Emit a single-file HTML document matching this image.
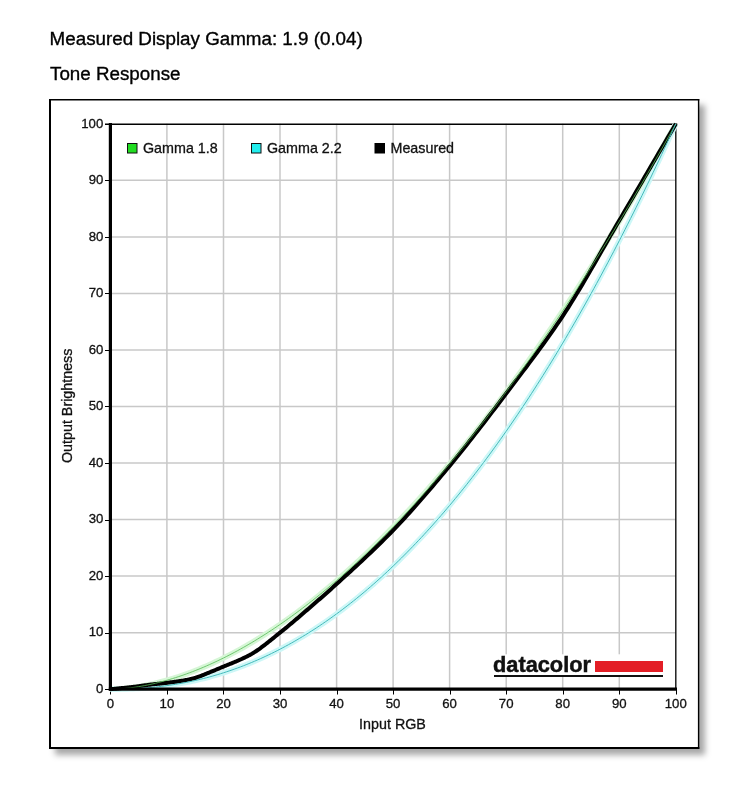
<!DOCTYPE html>
<html><head><meta charset="utf-8"><style>
html,body{margin:0;padding:0;background:#fff;width:746px;height:800px;overflow:hidden}
body{position:relative;font-family:"Liberation Sans",Arial,sans-serif;color:#000}
.t{position:absolute;left:50px;font-size:18.6px;white-space:nowrap;line-height:1}
#box{position:absolute;left:49px;top:99px;width:650px;height:650px;background:#fff;box-shadow:6px 6px 6px rgba(0,0,0,.34)}
svg{position:absolute;left:0;top:0;will-change:transform}
</style></head><body>
<div id="box"></div>
<svg width="746" height="800" viewBox="0 0 746 800">
<text x="49.6" y="44.6" font-family="Liberation Sans, Arial, sans-serif" font-size="18.8" fill="#000" stroke="#000" stroke-width="0.35">Measured Display Gamma: 1.9 (0.04)</text>
<text x="50" y="80.3" font-family="Liberation Sans, Arial, sans-serif" font-size="18.8" fill="#000" stroke="#000" stroke-width="0.35">Tone Response</text>
<g stroke="#c8c8c8" stroke-width="1.5" fill="none">
<line x1="166.9" y1="123.8" x2="166.9" y2="689.2"/>
<line x1="110.4" y1="632.7" x2="675.8" y2="632.7"/>
<line x1="223.5" y1="123.8" x2="223.5" y2="689.2"/>
<line x1="110.4" y1="576.1" x2="675.8" y2="576.1"/>
<line x1="280.0" y1="123.8" x2="280.0" y2="689.2"/>
<line x1="110.4" y1="519.6" x2="675.8" y2="519.6"/>
<line x1="336.6" y1="123.8" x2="336.6" y2="689.2"/>
<line x1="110.4" y1="463.0" x2="675.8" y2="463.0"/>
<line x1="393.1" y1="123.8" x2="393.1" y2="689.2"/>
<line x1="110.4" y1="406.5" x2="675.8" y2="406.5"/>
<line x1="449.6" y1="123.8" x2="449.6" y2="689.2"/>
<line x1="110.4" y1="350.0" x2="675.8" y2="350.0"/>
<line x1="506.2" y1="123.8" x2="506.2" y2="689.2"/>
<line x1="110.4" y1="293.4" x2="675.8" y2="293.4"/>
<line x1="562.7" y1="123.8" x2="562.7" y2="689.2"/>
<line x1="110.4" y1="236.9" x2="675.8" y2="236.9"/>
<line x1="619.3" y1="123.8" x2="619.3" y2="689.2"/>
<line x1="110.4" y1="180.3" x2="675.8" y2="180.3"/>
</g>
<g font-family="Liberation Sans, Arial, sans-serif" font-size="13.2" fill="#111" stroke="#111" stroke-width="0.3">
<text x="103.3" y="692.9" text-anchor="end">0</text>
<text x="110.4" y="707.6" text-anchor="middle">0</text>
<text x="103.3" y="636.4" text-anchor="end">10</text>
<text x="166.9" y="707.6" text-anchor="middle">10</text>
<text x="103.3" y="579.8" text-anchor="end">20</text>
<text x="223.5" y="707.6" text-anchor="middle">20</text>
<text x="103.3" y="523.3" text-anchor="end">30</text>
<text x="280.0" y="707.6" text-anchor="middle">30</text>
<text x="103.3" y="466.7" text-anchor="end">40</text>
<text x="336.6" y="707.6" text-anchor="middle">40</text>
<text x="103.3" y="410.2" text-anchor="end">50</text>
<text x="393.1" y="707.6" text-anchor="middle">50</text>
<text x="103.3" y="353.7" text-anchor="end">60</text>
<text x="449.6" y="707.6" text-anchor="middle">60</text>
<text x="103.3" y="297.1" text-anchor="end">70</text>
<text x="506.2" y="707.6" text-anchor="middle">70</text>
<text x="103.3" y="240.6" text-anchor="end">80</text>
<text x="562.7" y="707.6" text-anchor="middle">80</text>
<text x="103.3" y="184.0" text-anchor="end">90</text>
<text x="619.3" y="707.6" text-anchor="middle">90</text>
<text x="103.3" y="127.5" text-anchor="end">100</text>
<text x="675.8" y="707.6" text-anchor="middle">100</text>
</g>
<g stroke="#000" stroke-width="1"><line x1="105" y1="689.5" x2="110.4" y2="689.5"/>
<line x1="110.5" y1="689.2" x2="110.5" y2="694.5"/>
<line x1="105" y1="633.5" x2="110.4" y2="633.5"/>
<line x1="167.5" y1="689.2" x2="167.5" y2="694.5"/>
<line x1="105" y1="576.5" x2="110.4" y2="576.5"/>
<line x1="223.5" y1="689.2" x2="223.5" y2="694.5"/>
<line x1="105" y1="520.5" x2="110.4" y2="520.5"/>
<line x1="280.5" y1="689.2" x2="280.5" y2="694.5"/>
<line x1="105" y1="463.5" x2="110.4" y2="463.5"/>
<line x1="337.5" y1="689.2" x2="337.5" y2="694.5"/>
<line x1="105" y1="406.5" x2="110.4" y2="406.5"/>
<line x1="393.5" y1="689.2" x2="393.5" y2="694.5"/>
<line x1="105" y1="350.5" x2="110.4" y2="350.5"/>
<line x1="450.5" y1="689.2" x2="450.5" y2="694.5"/>
<line x1="105" y1="293.5" x2="110.4" y2="293.5"/>
<line x1="506.5" y1="689.2" x2="506.5" y2="694.5"/>
<line x1="105" y1="237.5" x2="110.4" y2="237.5"/>
<line x1="563.5" y1="689.2" x2="563.5" y2="694.5"/>
<line x1="105" y1="180.5" x2="110.4" y2="180.5"/>
<line x1="619.5" y1="689.2" x2="619.5" y2="694.5"/>
<line x1="105" y1="124.5" x2="110.4" y2="124.5"/>
<line x1="676.5" y1="689.2" x2="676.5" y2="694.5"/></g>
<!-- outer box border -->
<g fill="#000">
<rect x="49" y="99" width="2" height="650"/>
<rect x="49" y="99" width="650.3" height="1.5"/>
<rect x="697.9" y="99" width="1.4" height="650"/>
<rect x="49" y="747" width="650.3" height="2"/>
</g>
<!-- frame -->
<line x1="105" y1="124.3" x2="677.3" y2="124.3" stroke="#000" stroke-width="1.6"/>
<line x1="675.8" y1="123.5" x2="675.8" y2="689" stroke="#111" stroke-width="1.4"/>
<!-- datacolor logo -->
<g>
<rect x="492" y="654.3" width="172" height="21" fill="#fff"/>
<text x="493" y="671.5" font-family="Liberation Sans, Arial, sans-serif" font-weight="bold" font-size="22.6" fill="#111" stroke="#111" stroke-width="0.5" textLength="98" lengthAdjust="spacingAndGlyphs">datacolor</text>
<rect x="595" y="661" width="68" height="11" fill="#e31e26"/>
<rect x="494" y="675" width="169" height="2" fill="#111"/>
</g>
<!-- curves -->
<path d="M110.40,689.20 L113.23,689.16 L116.05,689.06 L118.88,688.91 L121.71,688.71 L124.54,688.46 L127.36,688.17 L130.19,687.85 L133.02,687.48 L135.84,687.07 L138.67,686.63 L141.50,686.15 L144.32,685.63 L147.15,685.07 L149.98,684.48 L152.81,683.86 L155.63,683.20 L158.46,682.51 L161.29,681.79 L164.11,681.03 L166.94,680.24 L169.77,679.42 L172.59,678.56 L175.42,677.68 L178.25,676.76 L181.07,675.81 L183.90,674.83 L186.73,673.82 L189.56,672.78 L192.38,671.71 L195.21,670.61 L198.04,669.48 L200.86,668.32 L203.69,667.13 L206.52,665.91 L209.34,664.66 L212.17,663.39 L215.00,662.08 L217.83,660.75 L220.65,659.39 L223.48,658.00 L226.31,656.58 L229.13,655.13 L231.96,653.66 L234.79,652.16 L237.62,650.63 L240.44,649.07 L243.27,647.49 L246.10,645.88 L248.92,644.24 L251.75,642.57 L254.58,640.88 L257.40,639.16 L260.23,637.42 L263.06,635.64 L265.88,633.85 L268.71,632.02 L271.54,630.17 L274.37,628.29 L277.19,626.39 L280.02,624.46 L282.85,622.50 L285.67,620.52 L288.50,618.52 L291.33,616.48 L294.15,614.43 L296.98,612.34 L299.81,610.23 L302.64,608.10 L305.46,605.94 L308.29,603.76 L311.12,601.55 L313.94,599.31 L316.77,597.05 L319.60,594.77 L322.43,592.46 L325.25,590.12 L328.08,587.77 L330.91,585.38 L333.73,582.97 L336.56,580.54 L339.39,578.08 L342.21,575.60 L345.04,573.10 L347.87,570.57 L350.69,568.01 L353.52,565.43 L356.35,562.83 L359.18,560.21 L362.00,557.56 L364.83,554.88 L367.66,552.18 L370.48,549.46 L373.31,546.71 L376.14,543.94 L378.97,541.15 L381.79,538.33 L384.62,535.49 L387.45,532.63 L390.27,529.74 L393.10,526.83 L395.93,523.90 L398.75,520.94 L401.58,517.96 L404.41,514.95 L407.24,511.93 L410.06,508.88 L412.89,505.80 L415.72,502.71 L418.54,499.59 L421.37,496.44 L424.20,493.28 L427.02,490.09 L429.85,486.88 L432.68,483.64 L435.50,480.39 L438.33,477.11 L441.16,473.80 L443.99,470.48 L446.81,467.13 L449.64,463.76 L452.47,460.37 L455.29,456.95 L458.12,453.52 L460.95,450.06 L463.77,446.57 L466.60,443.07 L469.43,439.54 L472.26,435.99 L475.08,432.42 L477.91,428.82 L480.74,425.21 L483.56,421.57 L486.39,417.91 L489.22,414.23 L492.04,410.52 L494.87,406.80 L497.70,403.05 L500.53,399.28 L503.35,395.48 L506.18,391.67 L509.01,387.83 L511.83,383.97 L514.66,380.09 L517.49,376.19 L520.32,372.27 L523.14,368.32 L525.97,364.36 L528.80,360.37 L531.62,356.36 L534.45,352.33 L537.28,348.27 L540.10,344.20 L542.93,340.10 L545.76,335.99 L548.59,331.85 L551.41,327.69 L554.24,323.50 L557.07,319.30 L559.89,315.08 L562.72,310.83 L565.55,306.56 L568.37,302.27 L571.20,297.96 L574.03,293.63 L576.86,289.28 L579.68,284.91 L582.51,280.51 L585.34,276.10 L588.16,271.66 L590.99,267.20 L593.82,262.72 L596.64,258.22 L599.47,253.70 L602.30,249.16 L605.12,244.60 L607.95,240.02 L610.78,235.41 L613.61,230.79 L616.43,226.14 L619.26,221.47 L622.09,216.79 L624.91,212.08 L627.74,207.35 L630.57,202.60 L633.39,197.83 L636.22,193.04 L639.05,188.22 L641.88,183.39 L644.70,178.54 L647.53,173.66 L650.36,168.77 L653.18,163.86 L656.01,158.92 L658.84,153.96 L661.66,148.99 L664.49,143.99 L667.32,138.97 L670.15,133.94 L672.97,128.88 L675.80,123.80" stroke="#d6f6d6" stroke-width="5.5" fill="none"/>
<path d="M110.40,689.20 L113.23,689.20 L116.05,689.18 L118.88,689.15 L121.71,689.10 L124.54,689.03 L127.36,688.95 L130.19,688.85 L133.02,688.72 L135.84,688.58 L138.67,688.42 L141.50,688.24 L144.32,688.04 L147.15,687.82 L149.98,687.57 L152.81,687.31 L155.63,687.02 L158.46,686.70 L161.29,686.37 L164.11,686.01 L166.94,685.63 L169.77,685.23 L172.59,684.80 L175.42,684.35 L178.25,683.87 L181.07,683.37 L183.90,682.85 L186.73,682.30 L189.56,681.72 L192.38,681.12 L195.21,680.50 L198.04,679.84 L200.86,679.17 L203.69,678.46 L206.52,677.74 L209.34,676.98 L212.17,676.20 L215.00,675.39 L217.83,674.56 L220.65,673.70 L223.48,672.81 L226.31,671.89 L229.13,670.95 L231.96,669.98 L234.79,668.98 L237.62,667.96 L240.44,666.91 L243.27,665.83 L246.10,664.72 L248.92,663.58 L251.75,662.42 L254.58,661.23 L257.40,660.01 L260.23,658.76 L263.06,657.48 L265.88,656.17 L268.71,654.84 L271.54,653.47 L274.37,652.08 L277.19,650.66 L280.02,649.20 L282.85,647.72 L285.67,646.21 L288.50,644.67 L291.33,643.10 L294.15,641.50 L296.98,639.87 L299.81,638.21 L302.64,636.52 L305.46,634.81 L308.29,633.06 L311.12,631.28 L313.94,629.47 L316.77,627.63 L319.60,625.75 L322.43,623.85 L325.25,621.92 L328.08,619.96 L330.91,617.96 L333.73,615.94 L336.56,613.88 L339.39,611.80 L342.21,609.68 L345.04,607.53 L347.87,605.35 L350.69,603.14 L353.52,600.89 L356.35,598.62 L359.18,596.31 L362.00,593.98 L364.83,591.61 L367.66,589.20 L370.48,586.77 L373.31,584.31 L376.14,581.81 L378.97,579.28 L381.79,576.72 L384.62,574.12 L387.45,571.50 L390.27,568.84 L393.10,566.15 L395.93,563.42 L398.75,560.67 L401.58,557.88 L404.41,555.06 L407.24,552.20 L410.06,549.32 L412.89,546.40 L415.72,543.45 L418.54,540.46 L421.37,537.44 L424.20,534.39 L427.02,531.30 L429.85,528.19 L432.68,525.04 L435.50,521.85 L438.33,518.63 L441.16,515.38 L443.99,512.10 L446.81,508.78 L449.64,505.42 L452.47,502.04 L455.29,498.62 L458.12,495.16 L460.95,491.68 L463.77,488.16 L466.60,484.60 L469.43,481.01 L472.26,477.39 L475.08,473.73 L477.91,470.04 L480.74,466.31 L483.56,462.55 L486.39,458.76 L489.22,454.93 L492.04,451.06 L494.87,447.17 L497.70,443.23 L500.53,439.27 L503.35,435.27 L506.18,431.23 L509.01,427.16 L511.83,423.05 L514.66,418.91 L517.49,414.73 L520.32,410.52 L523.14,406.28 L525.97,402.00 L528.80,397.68 L531.62,393.33 L534.45,388.94 L537.28,384.52 L540.10,380.07 L542.93,375.57 L545.76,371.05 L548.59,366.48 L551.41,361.89 L554.24,357.25 L557.07,352.58 L559.89,347.88 L562.72,343.14 L565.55,338.36 L568.37,333.55 L571.20,328.70 L574.03,323.82 L576.86,318.90 L579.68,313.94 L582.51,308.95 L585.34,303.93 L588.16,298.86 L590.99,293.76 L593.82,288.63 L596.64,283.46 L599.47,278.25 L602.30,273.00 L605.12,267.72 L607.95,262.41 L610.78,257.05 L613.61,251.66 L616.43,246.24 L619.26,240.78 L622.09,235.28 L624.91,229.74 L627.74,224.17 L630.57,218.56 L633.39,212.91 L636.22,207.23 L639.05,201.51 L641.88,195.76 L644.70,189.96 L647.53,184.13 L650.36,178.27 L653.18,172.36 L656.01,166.42 L658.84,160.45 L661.66,154.43 L664.49,148.38 L667.32,142.29 L670.15,136.16 L672.97,130.00 L675.80,123.80" stroke="#cdf7f7" stroke-width="5.5" fill="none"/>
<path d="M110.40,689.20 L111.53,689.09 L112.66,688.98 L113.79,688.87 L114.92,688.76 L116.05,688.65 L117.18,688.54 L118.32,688.44 L119.45,688.33 L120.58,688.22 L121.71,688.11 L122.84,688.00 L123.97,687.89 L125.10,687.78 L126.23,687.67 L127.36,687.55 L128.49,687.43 L129.62,687.31 L130.75,687.19 L131.89,687.07 L133.02,686.94 L133.86,686.84 L134.71,686.74 L135.56,686.63 L136.41,686.52 L137.26,686.41 L138.10,686.29 L138.95,686.18 L139.80,686.06 L140.65,685.94 L141.50,685.82 L142.35,685.70 L143.19,685.58 L144.04,685.46 L144.89,685.34 L145.74,685.23 L146.59,685.11 L147.43,685.00 L148.28,684.89 L149.13,684.78 L149.98,684.68 L150.83,684.58 L151.67,684.48 L152.52,684.38 L153.37,684.29 L154.22,684.19 L155.07,684.10 L155.91,684.01 L156.76,683.92 L157.61,683.84 L158.46,683.75 L159.31,683.66 L160.16,683.57 L161.00,683.48 L161.85,683.39 L162.70,683.30 L163.55,683.21 L164.40,683.11 L165.24,683.01 L166.09,682.91 L166.94,682.81 L167.70,682.72 L168.47,682.62 L169.23,682.53 L169.99,682.44 L170.76,682.34 L171.52,682.25 L172.28,682.15 L173.05,682.05 L173.81,681.95 L174.57,681.85 L175.34,681.75 L176.10,681.65 L176.86,681.54 L177.63,681.43 L178.39,681.32 L179.15,681.21 L179.92,681.09 L180.68,680.97 L181.44,680.85 L182.21,680.72 L182.80,680.62 L183.39,680.51 L183.99,680.41 L184.58,680.30 L185.17,680.19 L185.77,680.08 L186.36,679.96 L186.96,679.84 L187.55,679.72 L188.14,679.60 L188.74,679.47 L189.33,679.34 L189.92,679.20 L190.52,679.07 L191.11,678.93 L191.70,678.78 L192.30,678.64 L192.89,678.49 L193.49,678.33 L194.08,678.17 L194.87,677.95 L195.66,677.72 L196.45,677.47 L197.25,677.21 L198.04,676.94 L198.83,676.66 L199.62,676.37 L200.41,676.07 L201.20,675.77 L201.99,675.46 L202.79,675.14 L203.58,674.82 L204.37,674.50 L205.16,674.17 L205.95,673.85 L206.74,673.52 L207.54,673.20 L208.33,672.87 L209.12,672.55 L209.91,672.24 L210.59,671.97 L211.27,671.70 L211.95,671.42 L212.62,671.14 L213.30,670.86 L213.98,670.58 L214.66,670.30 L215.34,670.02 L216.02,669.73 L216.70,669.44 L217.37,669.16 L218.05,668.87 L218.73,668.58 L219.41,668.30 L220.09,668.01 L220.77,667.72 L221.44,667.44 L222.12,667.15 L222.80,666.87 L223.48,666.58 L224.30,666.25 L225.12,665.91 L225.94,665.58 L226.76,665.25 L227.58,664.92 L228.40,664.59 L229.22,664.26 L230.04,663.93 L230.86,663.60 L231.68,663.27 L232.50,662.94 L233.32,662.61 L234.14,662.27 L234.96,661.93 L235.78,661.59 L236.60,661.24 L237.42,660.89 L238.24,660.53 L239.06,660.17 L239.88,659.80 L240.47,659.53 L241.06,659.26 L241.66,658.99 L242.25,658.71 L242.84,658.44 L243.44,658.16 L244.03,657.88 L244.63,657.60 L245.22,657.31 L245.81,657.02 L246.41,656.73 L247.00,656.43 L247.59,656.13 L248.19,655.82 L248.78,655.51 L249.38,655.19 L249.97,654.87 L250.56,654.54 L251.16,654.21 L251.75,653.86 L253.16,653.02 L254.58,652.13 L255.99,651.21 L257.40,650.26 L258.82,649.28 L260.23,648.27 L261.64,647.23 L263.06,646.17 L264.47,645.09 L265.88,644.00 L267.30,642.89 L268.71,641.76 L270.13,640.63 L271.54,639.49 L272.95,638.35 L274.37,637.20 L275.78,636.06 L277.19,634.92 L278.61,633.79 L280.02,632.66 L281.43,631.53 L282.85,630.40 L284.26,629.25 L285.67,628.10 L287.09,626.94 L288.50,625.77 L289.91,624.59 L291.33,623.41 L292.74,622.22 L294.15,621.02 L295.57,619.82 L296.98,618.62 L298.40,617.41 L299.81,616.20 L301.22,614.99 L302.64,613.78 L304.05,612.56 L305.46,611.34 L306.88,610.13 L308.29,608.91 L309.70,607.70 L311.12,606.48 L312.53,605.26 L313.94,604.04 L315.36,602.81 L316.77,601.59 L318.18,600.36 L319.60,599.13 L321.01,597.89 L322.43,596.65 L323.84,595.41 L325.25,594.16 L326.67,592.91 L328.08,591.66 L329.49,590.40 L330.91,589.14 L332.32,587.87 L333.73,586.60 L335.15,585.32 L336.56,584.04 L339.39,581.46 L342.21,578.89 L345.04,576.32 L347.87,573.74 L350.69,571.16 L353.52,568.56 L356.35,565.96 L359.18,563.35 L362.00,560.72 L364.83,558.07 L367.66,555.41 L370.48,552.73 L373.31,550.03 L376.14,547.30 L378.97,544.54 L381.79,541.76 L384.62,538.95 L387.45,536.11 L390.27,533.23 L393.10,530.32 L395.93,527.37 L398.75,524.39 L401.58,521.36 L404.41,518.30 L407.24,515.21 L410.06,512.08 L412.89,508.93 L415.72,505.74 L418.54,502.53 L421.37,499.29 L424.20,496.03 L427.02,492.75 L429.85,489.44 L432.68,486.12 L435.50,482.78 L438.33,479.42 L441.16,476.05 L443.99,472.67 L446.81,469.27 L449.64,465.87 L452.47,462.44 L455.29,458.99 L458.12,455.51 L460.95,452.01 L463.77,448.48 L466.60,444.93 L469.43,441.35 L472.26,437.76 L475.08,434.14 L477.91,430.51 L480.74,426.86 L483.56,423.20 L486.39,419.52 L489.22,415.83 L492.04,412.13 L494.87,408.42 L497.70,404.70 L500.53,400.97 L503.35,397.24 L506.18,393.50 L509.01,389.76 L511.83,386.04 L514.66,382.32 L517.49,378.60 L520.32,374.88 L523.14,371.15 L525.97,367.42 L528.80,363.67 L531.62,359.90 L534.45,356.11 L537.28,352.29 L540.10,348.44 L542.93,344.55 L545.76,340.63 L548.59,336.66 L551.41,332.65 L554.24,328.58 L557.07,324.46 L559.89,320.28 L562.72,316.04 L565.55,311.71 L568.37,307.30 L571.20,302.80 L574.03,298.22 L576.86,293.58 L579.68,288.87 L582.51,284.11 L585.34,279.31 L588.16,274.46 L590.99,269.58 L593.82,264.67 L596.64,259.74 L599.47,254.81 L602.30,249.86 L605.12,244.92 L607.95,239.99 L610.78,235.07 L613.61,230.17 L616.43,225.31 L619.26,220.48 L622.09,215.67 L624.91,210.86 L627.74,206.04 L630.57,201.22 L633.39,196.39 L636.22,191.56 L639.05,186.73 L641.88,181.89 L644.70,177.05 L647.53,172.21 L650.36,167.37 L653.18,162.53 L656.01,157.68 L658.84,152.84 L661.66,148.00 L664.49,143.15 L667.32,138.31 L670.15,133.47 L672.97,128.64 L675.80,123.80" stroke="#000" stroke-width="4" fill="none" stroke-linejoin="round"/>
<path d="M110.40,689.20 L113.23,689.16 L116.05,689.06 L118.88,688.91 L121.71,688.71 L124.54,688.46 L127.36,688.17 L130.19,687.85 L133.02,687.48 L135.84,687.07 L138.67,686.63 L141.50,686.15 L144.32,685.63 L147.15,685.07 L149.98,684.48 L152.81,683.86 L155.63,683.20 L158.46,682.51 L161.29,681.79 L164.11,681.03 L166.94,680.24 L169.77,679.42 L172.59,678.56 L175.42,677.68 L178.25,676.76 L181.07,675.81 L183.90,674.83 L186.73,673.82 L189.56,672.78 L192.38,671.71 L195.21,670.61 L198.04,669.48 L200.86,668.32 L203.69,667.13 L206.52,665.91 L209.34,664.66 L212.17,663.39 L215.00,662.08 L217.83,660.75 L220.65,659.39 L223.48,658.00 L226.31,656.58 L229.13,655.13 L231.96,653.66 L234.79,652.16 L237.62,650.63 L240.44,649.07 L243.27,647.49 L246.10,645.88 L248.92,644.24 L251.75,642.57 L254.58,640.88 L257.40,639.16 L260.23,637.42 L263.06,635.64 L265.88,633.85 L268.71,632.02 L271.54,630.17 L274.37,628.29 L277.19,626.39 L280.02,624.46 L282.85,622.50 L285.67,620.52 L288.50,618.52 L291.33,616.48 L294.15,614.43 L296.98,612.34 L299.81,610.23 L302.64,608.10 L305.46,605.94 L308.29,603.76 L311.12,601.55 L313.94,599.31 L316.77,597.05 L319.60,594.77 L322.43,592.46 L325.25,590.12 L328.08,587.77 L330.91,585.38 L333.73,582.97 L336.56,580.54 L339.39,578.08 L342.21,575.60 L345.04,573.10 L347.87,570.57 L350.69,568.01 L353.52,565.43 L356.35,562.83 L359.18,560.21 L362.00,557.56 L364.83,554.88 L367.66,552.18 L370.48,549.46 L373.31,546.71 L376.14,543.94 L378.97,541.15 L381.79,538.33 L384.62,535.49 L387.45,532.63 L390.27,529.74 L393.10,526.83 L395.93,523.90 L398.75,520.94 L401.58,517.96 L404.41,514.95 L407.24,511.93 L410.06,508.88 L412.89,505.80 L415.72,502.71 L418.54,499.59 L421.37,496.44 L424.20,493.28 L427.02,490.09 L429.85,486.88 L432.68,483.64 L435.50,480.39 L438.33,477.11 L441.16,473.80 L443.99,470.48 L446.81,467.13 L449.64,463.76 L452.47,460.37 L455.29,456.95 L458.12,453.52 L460.95,450.06 L463.77,446.57 L466.60,443.07 L469.43,439.54 L472.26,435.99 L475.08,432.42 L477.91,428.82 L480.74,425.21 L483.56,421.57 L486.39,417.91 L489.22,414.23 L492.04,410.52 L494.87,406.80 L497.70,403.05 L500.53,399.28 L503.35,395.48 L506.18,391.67 L509.01,387.83 L511.83,383.97 L514.66,380.09 L517.49,376.19 L520.32,372.27 L523.14,368.32 L525.97,364.36 L528.80,360.37 L531.62,356.36 L534.45,352.33 L537.28,348.27 L540.10,344.20 L542.93,340.10 L545.76,335.99 L548.59,331.85 L551.41,327.69 L554.24,323.50 L557.07,319.30 L559.89,315.08 L562.72,310.83 L565.55,306.56 L568.37,302.27 L571.20,297.96 L574.03,293.63 L576.86,289.28 L579.68,284.91 L582.51,280.51 L585.34,276.10 L588.16,271.66 L590.99,267.20 L593.82,262.72 L596.64,258.22 L599.47,253.70 L602.30,249.16 L605.12,244.60 L607.95,240.02 L610.78,235.41 L613.61,230.79 L616.43,226.14 L619.26,221.47 L622.09,216.79 L624.91,212.08 L627.74,207.35 L630.57,202.60 L633.39,197.83 L636.22,193.04 L639.05,188.22 L641.88,183.39 L644.70,178.54 L647.53,173.66 L650.36,168.77 L653.18,163.86 L656.01,158.92 L658.84,153.96 L661.66,148.99 L664.49,143.99 L667.32,138.97 L670.15,133.94 L672.97,128.88 L675.80,123.80" stroke="#55bb55" stroke-width="1" fill="none" opacity=".8"/>
<path d="M110.40,689.20 L113.23,689.20 L116.05,689.18 L118.88,689.15 L121.71,689.10 L124.54,689.03 L127.36,688.95 L130.19,688.85 L133.02,688.72 L135.84,688.58 L138.67,688.42 L141.50,688.24 L144.32,688.04 L147.15,687.82 L149.98,687.57 L152.81,687.31 L155.63,687.02 L158.46,686.70 L161.29,686.37 L164.11,686.01 L166.94,685.63 L169.77,685.23 L172.59,684.80 L175.42,684.35 L178.25,683.87 L181.07,683.37 L183.90,682.85 L186.73,682.30 L189.56,681.72 L192.38,681.12 L195.21,680.50 L198.04,679.84 L200.86,679.17 L203.69,678.46 L206.52,677.74 L209.34,676.98 L212.17,676.20 L215.00,675.39 L217.83,674.56 L220.65,673.70 L223.48,672.81 L226.31,671.89 L229.13,670.95 L231.96,669.98 L234.79,668.98 L237.62,667.96 L240.44,666.91 L243.27,665.83 L246.10,664.72 L248.92,663.58 L251.75,662.42 L254.58,661.23 L257.40,660.01 L260.23,658.76 L263.06,657.48 L265.88,656.17 L268.71,654.84 L271.54,653.47 L274.37,652.08 L277.19,650.66 L280.02,649.20 L282.85,647.72 L285.67,646.21 L288.50,644.67 L291.33,643.10 L294.15,641.50 L296.98,639.87 L299.81,638.21 L302.64,636.52 L305.46,634.81 L308.29,633.06 L311.12,631.28 L313.94,629.47 L316.77,627.63 L319.60,625.75 L322.43,623.85 L325.25,621.92 L328.08,619.96 L330.91,617.96 L333.73,615.94 L336.56,613.88 L339.39,611.80 L342.21,609.68 L345.04,607.53 L347.87,605.35 L350.69,603.14 L353.52,600.89 L356.35,598.62 L359.18,596.31 L362.00,593.98 L364.83,591.61 L367.66,589.20 L370.48,586.77 L373.31,584.31 L376.14,581.81 L378.97,579.28 L381.79,576.72 L384.62,574.12 L387.45,571.50 L390.27,568.84 L393.10,566.15 L395.93,563.42 L398.75,560.67 L401.58,557.88 L404.41,555.06 L407.24,552.20 L410.06,549.32 L412.89,546.40 L415.72,543.45 L418.54,540.46 L421.37,537.44 L424.20,534.39 L427.02,531.30 L429.85,528.19 L432.68,525.04 L435.50,521.85 L438.33,518.63 L441.16,515.38 L443.99,512.10 L446.81,508.78 L449.64,505.42 L452.47,502.04 L455.29,498.62 L458.12,495.16 L460.95,491.68 L463.77,488.16 L466.60,484.60 L469.43,481.01 L472.26,477.39 L475.08,473.73 L477.91,470.04 L480.74,466.31 L483.56,462.55 L486.39,458.76 L489.22,454.93 L492.04,451.06 L494.87,447.17 L497.70,443.23 L500.53,439.27 L503.35,435.27 L506.18,431.23 L509.01,427.16 L511.83,423.05 L514.66,418.91 L517.49,414.73 L520.32,410.52 L523.14,406.28 L525.97,402.00 L528.80,397.68 L531.62,393.33 L534.45,388.94 L537.28,384.52 L540.10,380.07 L542.93,375.57 L545.76,371.05 L548.59,366.48 L551.41,361.89 L554.24,357.25 L557.07,352.58 L559.89,347.88 L562.72,343.14 L565.55,338.36 L568.37,333.55 L571.20,328.70 L574.03,323.82 L576.86,318.90 L579.68,313.94 L582.51,308.95 L585.34,303.93 L588.16,298.86 L590.99,293.76 L593.82,288.63 L596.64,283.46 L599.47,278.25 L602.30,273.00 L605.12,267.72 L607.95,262.41 L610.78,257.05 L613.61,251.66 L616.43,246.24 L619.26,240.78 L622.09,235.28 L624.91,229.74 L627.74,224.17 L630.57,218.56 L633.39,212.91 L636.22,207.23 L639.05,201.51 L641.88,195.76 L644.70,189.96 L647.53,184.13 L650.36,178.27 L653.18,172.36 L656.01,166.42 L658.84,160.45 L661.66,154.43 L664.49,148.38 L667.32,142.29 L670.15,136.16 L672.97,130.00 L675.80,123.80" stroke="#44bbbb" stroke-width="1" fill="none"/>
<!-- axes -->
<line x1="110.4" y1="123" x2="110.4" y2="690.7" stroke="#000" stroke-width="3.2"/>
<line x1="108.8" y1="689.2" x2="677" y2="689.2" stroke="#000" stroke-width="3.2"/>
<!-- legend -->
<g font-family="Liberation Sans, Arial, sans-serif" font-size="14.3" fill="#111">
<g stroke="#111" stroke-width="0.3">
<rect x="127.5" y="143.5" width="9.5" height="9.5" fill="#22dd22" stroke="#111" stroke-width="1"/>
<text x="143" y="153.2">Gamma 1.8</text>
<rect x="251.5" y="143.5" width="9.5" height="9.5" fill="#22eeee" stroke="#111" stroke-width="1"/>
<text x="267" y="153.2">Gamma 2.2</text>
<rect x="375" y="143.5" width="9.5" height="9.5" fill="#000" stroke="#000" stroke-width="1"/>
<text x="390.5" y="153.2">Measured</text>
</g></g>
<text x="0" y="0" transform="translate(71.9,405.8) rotate(-90)" text-anchor="middle" font-family="Liberation Sans, Arial, sans-serif" font-size="14.3" fill="#111" stroke="#111" stroke-width="0.3">Output Brightness</text>
<text x="392.5" y="729.4" text-anchor="middle" font-family="Liberation Sans, Arial, sans-serif" font-size="14.3" fill="#111" stroke="#111" stroke-width="0.3">Input RGB</text>
</svg>
</body></html>
